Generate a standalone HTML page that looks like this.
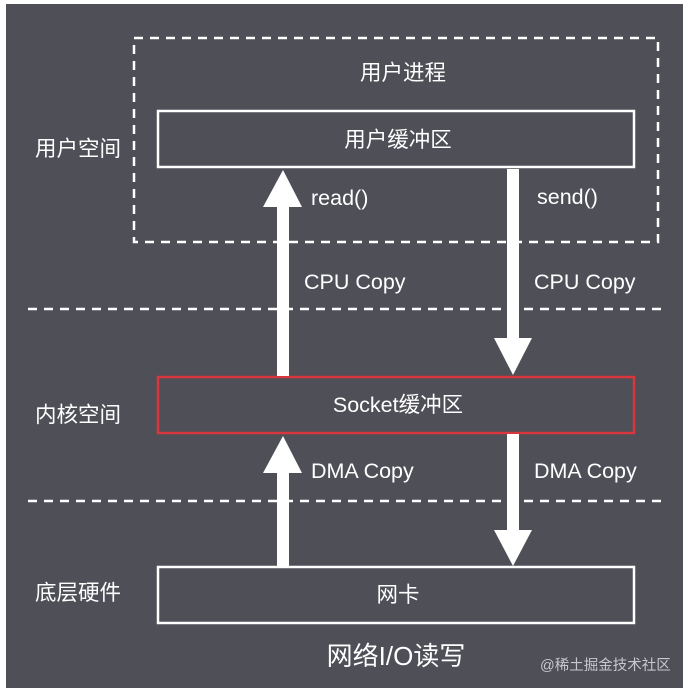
<!DOCTYPE html>
<html><head><meta charset="utf-8"><style>
html,body{margin:0;padding:0;background:#fff;}
svg{display:block;}
text{font-family:"Liberation Sans","Noto Sans CJK SC",sans-serif;fill:#fff;}
</style></head><body>
<svg width="688" height="693" viewBox="0 0 688 693" xmlns="http://www.w3.org/2000/svg">
<rect x="6" y="4" width="677" height="684" fill="#4e4f57"/>
<rect x="134" y="38" width="524" height="204" fill="none" stroke="#fff" stroke-width="2.5" stroke-dasharray="9,7"/>
<line x1="28" y1="309" x2="664" y2="309" stroke="#fff" stroke-width="2.5" stroke-dasharray="9,7"/>
<line x1="28" y1="501" x2="664" y2="501" stroke="#fff" stroke-width="2.5" stroke-dasharray="9,7"/>
<rect x="158" y="111" width="476" height="56" fill="#4e4f57" stroke="#fff" stroke-width="2.5"/>
<rect x="158" y="377" width="476" height="56" fill="#4e4f57" stroke="#d9363e" stroke-width="2.5"/>
<rect x="158" y="567" width="476" height="56" fill="#4e4f57" stroke="#fff" stroke-width="2.5"/>
<rect x="277" y="205" width="12" height="171" fill="#fff"/>
<polygon points="283,170 263,207 302,207" fill="#fff"/>
<rect x="277" y="471" width="12" height="96" fill="#fff"/>
<polygon points="283,436 263,473 302,473" fill="#fff"/>
<rect x="507" y="169" width="12" height="170" fill="#fff"/>
<polygon points="513,375 494,338 532,338" fill="#fff"/>
<rect x="507" y="434" width="12" height="98" fill="#fff"/>
<polygon points="513,566 494,530 532,530" fill="#fff"/>
<g font-size="21.5">
<text x="403" y="80" text-anchor="middle">用户进程</text>
<text x="398" y="147" text-anchor="middle">用户缓冲区</text>
<text x="35" y="156">用户空间</text>
<text x="311" y="205">read()</text>
<text x="537" y="204">send()</text>
<text x="304" y="289">CPU Copy</text>
<text x="534" y="289">CPU Copy</text>
<text x="398" y="412" text-anchor="middle">Socket缓冲区</text>
<text x="35" y="422">内核空间</text>
<text x="311" y="478">DMA Copy</text>
<text x="534" y="478">DMA Copy</text>
<text x="35" y="600">底层硬件</text>
<text x="398" y="602" text-anchor="middle">网卡</text>
</g>
<text x="396" y="665" text-anchor="middle" font-size="26">网络I/O读写</text>
<text x="540" y="670" font-size="14.5" style="fill:#c8c8cc">@稀土掘金技术社区</text>
</svg>
</body></html>
